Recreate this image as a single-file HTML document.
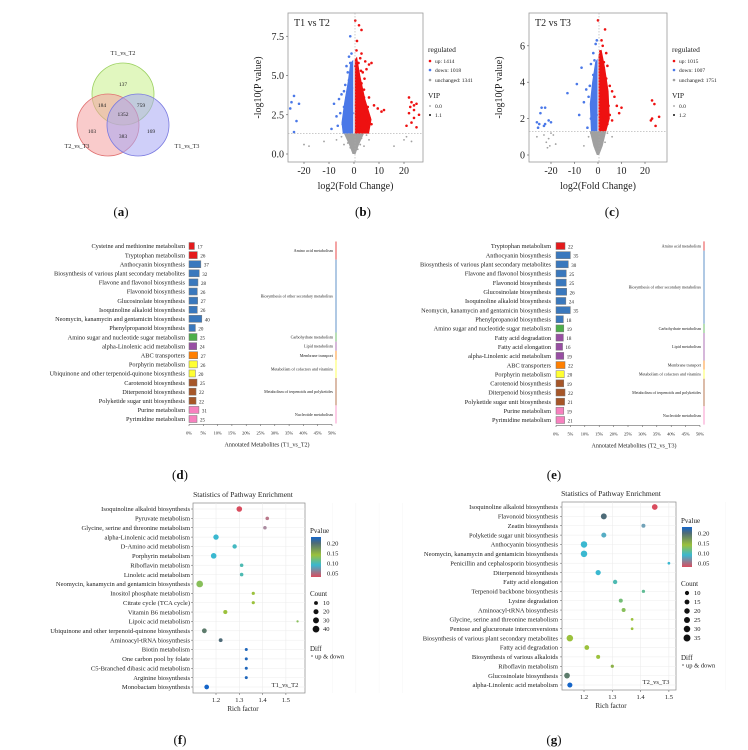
<!DOCTYPE html>
<html><head><meta charset="utf-8"><style>
html,body{margin:0;padding:0;background:#fff}
svg{display:block;font-family:"Liberation Serif",serif}
</style></head><body>
<svg id="fig" width="748" height="750" viewBox="0 0 748 750" xmlns="http://www.w3.org/2000/svg"></svg>
<script>
// ===== DATA =====
const vennSets=["T1_vs_T2","T2_vs_T3","T1_vs_T3"];
const vennCounts=[137,184,759,1352,103,383,169];

// Volcano b
const bUp=[[0.5,8.5],[2,8.2],[3,7.9],[1.2,7.2],[1,6.6],[2.5,6.1],[4.5,5.9],[6,5.7],[5,5.4],[7,5.8],[3.5,5.2],[2,4.9],[3,4.5],[4,4.1],[6,3.6],[8,3.1],[9.5,2.9],[11,2.7],[12,2.8],[1.5,4],[1.6,3.5],[2.2,3],[3.2,2.5],[5,2.1],[7,1.9],[1.1,2.1],[2.3,1.7],[0.8,3.1],[1.3,4.4],[0.6,5.6],[3.6,3.3],[4.6,2.7],[6.2,2.3],[2.8,5.3],[1.8,5.8],[0.7,2.6],[1.5,1.5],[3.1,1.45],[4,3.6],[5.5,3],[2.6,3.8],[1.9,2.4],[0.9,4.8],[4.2,4.8],[3,6.4],[22,3.6],[23,3.3],[24,3.1],[25,3.2],[22,2.6],[24,2.3],[26,2.5],[23,2.0],[21,1.8],[25,1.7],[24,2.8],[22.5,3]];
const bDown=[[-1.5,7.5],[-1,6.4],[-2,6.2],[-1.5,5.8],[-3,5.6],[-2.5,5.2],[-1,5],[-2,4.7],[-3.5,4.4],[-4,4],[-5,3.8],[-6,3.5],[-8,3.2],[-4,3],[-5.5,2.6],[-7,2.4],[-3,2.3],[-2,2],[-4.5,1.9],[-9,1.6],[-1,1.5],[-2.5,1.6],[-1.2,3.5],[-0.8,4.2],[-1.8,3],[-3,3.6],[-0.6,2.6],[-2.2,4.1],[-6.5,1.8],[-3.8,1.5],[-25,3.3],[-24,3.7],[-22,3.2],[-25.5,2.9],[-23,2.1],[-24,1.4]];
const bGray=[[-3,1.2],[-2,1],[-1,0.8],[0,1.1],[1,0.9],[2,1.2],[3,1],[-4,0.6],[4,0.5],[-1.5,0.4],[1.5,0.3],[0.5,0.1],[-0.5,0.2],[-2.5,0.7],[2.5,0.6],[0,0.5],[-5,1.1],[5,1.2],[-12,0.8],[-18,0.5],[-20,0.6],[20,0.9],[21,1.1],[23,0.8],[16,0.5],[6,0.9],[-7,0.9]];
const bUpCore=[[0.3,1.3],[0.3,6],[1.2,6.2],[2.5,5],[4.5,3.5],[7,2.2],[6,1.3]];
const bDownCore=[[-0.3,1.3],[-0.3,6],[-1.5,5.8],[-2.5,4.6],[-4,3.2],[-5,2],[-4.5,1.3]];
const bGrayCore=[[-4,1.3],[4,1.3],[2,0.6],[0.6,0],[-0.6,0],[-2,0.6]];

// Volcano c
const cUp=[[0,7.4],[1.5,6.3],[3,6.9],[2,6],[3.5,5.6],[1,5.7],[2.5,5.1],[4,4.9],[2,4.5],[3.5,4.2],[5,3.8],[6,3.5],[7,3.2],[8,2.7],[10,2.6],[9,2.3],[5,2.2],[6,1.9],[4,1.7],[2,1.5],[1,2.3],[1.5,3.3],[0.8,4.4],[3,3],[2.5,2.1],[4.5,2.7],[1.2,1.8],[23,3],[24,2.8],[23,2],[26,2.1],[24.5,1.6],[22.5,1.9]];
const cDown=[[-0.5,6.3],[-1,6.1],[-2,5.6],[-1.5,5.2],[-3,5],[-7,4.8],[-2,4.4],[-1,4],[-3.5,3.8],[-9,3.9],[-13,3.4],[-5,3.6],[-4,3.2],[-6,2.9],[-2,2.6],[-8,2.2],[-3,2],[-1.5,1.6],[-4.5,1.5],[-1,3],[-2.5,3],[-0.6,2.2],[-24,2.6],[-22.5,2.6],[-24.5,2.3],[-21,1.9],[-20,1.8],[-23,1.6],[-25,1.7],[-25.5,1.5],[-22.5,1.7],[-26,1.8]];
const cGray=[[-3,1.2],[-2,0.9],[-1,1],[0,0.8],[1,1.1],[2,0.9],[3,0.7],[-4,1],[4,1.2],[6,1],[-6,0.5],[0,0.1],[-1,0.3],[1,0.4],[-20,1.2],[-21,0.9],[-22,0.7],[-19,1.1],[-20.5,0.5],[-18,0.6],[-23,1.1],[-21.5,0.4],[-26,1]];
const cUpCore=[[0.2,1.3],[0.2,5.5],[1.5,5.8],[3,4.8],[4.5,3.5],[5,2],[3.5,1.3]];
const cDownCore=[[-0.2,1.3],[-0.2,5.3],[-1.2,5.1],[-2.5,4],[-3.5,2.8],[-3,1.3]];
const cGrayCore=[[-3.5,1.3],[3.5,1.3],[2,0.5],[0.5,0],[-0.5,0],[-2,0.5]];

// Bar charts
const dNames=["Cysteine and methionine metabolism","Tryptophan metabolism","Anthocyanin biosynthesis","Biosynthesis of various plant secondary metabolites","Flavone and flavonol biosynthesis","Flavonoid biosynthesis","Glucosinolate biosynthesis","Isoquinoline alkaloid biosynthesis","Neomycin, kanamycin and gentamicin biosynthesis","Phenylpropanoid biosynthesis","Amino sugar and nucleotide sugar metabolism","alpha-Linolenic acid metabolism","ABC transporters","Porphyrin metabolism","Ubiquinone and other terpenoid-quinone biosynthesis","Carotenoid biosynthesis","Diterpenoid biosynthesis","Polyketide sugar unit biosynthesis","Purine metabolism","Pyrimidine metabolism"];
const dValues=[17,26,37,32,28,26,27,26,40,20,25,24,27,26,20,25,22,22,31,25];
const dGroupIdx=[0,0,1,1,1,1,1,1,1,1,2,3,4,5,5,6,6,6,7,7];
const eNames=["Tryptophan metabolism","Anthocyanin biosynthesis","Biosynthesis of various plant secondary metabolites","Flavone and flavonol biosynthesis","Flavonoid biosynthesis","Glucosinolate biosynthesis","Isoquinoline alkaloid biosynthesis","Neomycin, kanamycin and gentamicin biosynthesis","Phenylpropanoid biosynthesis","Amino sugar and nucleotide sugar metabolism","Fatty acid degradation","Fatty acid elongation","alpha-Linolenic acid metabolism","ABC transporters","Porphyrin metabolism","Carotenoid biosynthesis","Diterpenoid biosynthesis","Polyketide sugar unit biosynthesis","Purine metabolism","Pyrimidine metabolism"];
const eValues=[22,35,30,25,25,26,24,35,18,19,18,16,19,22,20,19,22,21,19,21];
const eGroupIdx=[0,1,1,1,1,1,1,1,1,2,3,3,3,4,5,6,6,6,7,7];
const groupNames=["Amino acid metabolism","Biosynthesis of other secondary metabolites","Carbohydrate metabolism","Lipid metabolism","Membrane transport","Metabolism of cofactors and vitamins","Metabolism of terpenoids and polyketides","Nucleotide metabolism"];
const groupColors=["#e41a1c","#3a78bd","#4daf4a","#984ea3","#ff7f00","#ffff33","#a65628","#f781bf"];
const pctTicks=["0%","5%","10%","15%","20%","25%","30%","35%","40%","45%","50%"];

// Dot plots
const fNames=["Isoquinoline alkaloid biosynthesis","Pyruvate metabolism","Glycine, serine and threonine metabolism","alpha-Linolenic acid metabolism","D-Amino acid metabolism","Porphyrin metabolism","Riboflavin metabolism","Linoleic acid metabolism","Neomycin, kanamycin and gentamicin biosynthesis","Inositol phosphate metabolism","Citrate cycle (TCA cycle)","Vitamin B6 metabolism","Lipoic acid metabolism","Ubiquinone and other terpenoid-quinone biosynthesis","Aminoacyl-tRNA biosynthesis","Biotin metabolism","One carbon pool by folate","C5-Branched dibasic acid metabolism","Arginine biosynthesis","Monobactam biosynthesis"];
const fRich=[1.30,1.42,1.41,1.20,1.28,1.19,1.31,1.31,1.13,1.36,1.36,1.24,1.55,1.15,1.22,1.33,1.33,1.33,1.33,1.16];
const fP=[0.03,0.05,0.06,0.10,0.105,0.10,0.11,0.11,0.14,0.15,0.15,0.15,0.14,0.19,0.20,0.225,0.225,0.225,0.225,0.23];
const fCount=[26,8,8,24,14,26,8,8,40,6,6,12,2,18,10,5,5,5,5,17];
const gNames=["Isoquinoline alkaloid biosynthesis","Flavonoid biosynthesis","Zeatin biosynthesis","Polyketide sugar unit biosynthesis","Anthocyanin biosynthesis","Neomycin, kanamycin and gentamicin biosynthesis","Penicillin and cephalosporin biosynthesis","Diterpenoid biosynthesis","Fatty acid elongation","Terpenoid backbone biosynthesis","Lysine degradation","Aminoacyl-tRNA biosynthesis","Glycine, serine and threonine metabolism","Pentose and glucuronate interconversions","Biosynthesis of various plant secondary metabolites","Fatty acid degradation","Biosynthesis of various alkaloids","Riboflavin metabolism","Glucosinolate biosynthesis","alpha-Linolenic acid metabolism"];
const gRich=[1.45,1.27,1.41,1.27,1.20,1.20,1.50,1.25,1.31,1.41,1.33,1.34,1.37,1.37,1.15,1.21,1.25,1.30,1.14,1.15];
const gP=[0.03,0.20,0.08,0.09,0.10,0.10,0.10,0.10,0.11,0.12,0.13,0.14,0.15,0.15,0.15,0.15,0.15,0.16,0.19,0.23];
const gCount=[22,24,9,16,30,30,3,18,11,5,9,9,3,3,30,14,9,5,22,17];
const fCountLeg=[10,20,30,40];
const gCountLeg=[10,15,20,25,30,35];
const fPTicks=[0.20,0.15,0.10,0.05];
const gPTicks=[0.20,0.15,0.10,0.05];

// ===== HELPERS =====
const NS="http://www.w3.org/2000/svg";
const svg=document.getElementById('fig');
function el(tag,attrs,parent){const e=document.createElementNS(NS,tag);for(const k in attrs)e.setAttribute(k,attrs[k]);(parent||svg).appendChild(e);return e;}
function txt(s,x,y,size,anchor,parent,extra){const t=el('text',Object.assign({x:x,y:y,'font-size':size,'text-anchor':anchor||'start',fill:'#222'},extra||{}),parent);t.textContent=s;return t;}
function pcol(p){const st=[[0.03,[217,76,94]],[0.06,[170,140,160]],[0.10,[58,184,208]],[0.15,[155,193,60]],[0.20,[78,107,120]],[0.23,[21,101,200]]];
 if(p<=st[0][0])return 'rgb('+st[0][1]+')';for(let i=1;i<st.length;i++){if(p<=st[i][0]){const a=st[i-1],b=st[i],t=(p-a[0])/(b[0]-a[0]);return 'rgb('+a[1].map((v,j)=>Math.round(v+(b[1][j]-v)*t)).join(',')+')';}}return 'rgb('+st[st.length-1][1]+')';}

// ===== VENN (a) =====
const gA=el('g',{});


const vc=[[123,94,'#c8f08a','#9bd060'],[108,125,'#f4a0a0','#e07070'],[138,125,'#a8a8f4','#7a7ae0']];
vc.forEach((c,i)=>{const ci=el('circle',{cx:c[0],cy:c[1],r:31,fill:c[2],'fill-opacity':0.55,stroke:c[3],'stroke-width':0.8},gA);

});
const vLabPos=[[123,55,'middle'],[77,148,'middle'],[187,148,'middle']];
vennSets.forEach((s,i)=>{const t=txt(s,vLabPos[i][0],vLabPos[i][1],6,vLabPos[i][2],gA);

});
const vNumPos=[[123,86],[102,107],[141,107],[123,116],[92,133],[123,138],[151,133]];
vennCounts.forEach((v,i)=>{const t=txt(String(v),vNumPos[i][0],vNumPos[i][1],5.5,'middle',gA);

});

// panel letters
[['(a)',121,216],['(b)',363,216],['(c)',612,216],['(d)',180,479],['(e)',554,479],['(f)',180,744],['(g)',554,744]].forEach(p=>{
 const t=el('text',{x:p[1],y:p[2],'font-size':13,'text-anchor':'middle',fill:'#111'});
 t.innerHTML='(<tspan font-weight="bold">'+p[0][1]+'</tspan>)';
 
 });

// ===== VOLCANO =====
function volcano(o){
 const g=el('g',{});
 
 
 const X=v=>o.x0+(v-o.xmin)*o.kx, Y=v=>o.y0-v*o.ky;
 const fr=el('rect',{x:o.L,y:o.T,width:o.R-o.L,height:o.B-o.T,fill:'#fff',stroke:'#999','stroke-width':0.8},g);
 
 
 const cl=el('g',{'clip-path':''},g);
 function poly(pts,col,name){const p=el('polygon',{points:pts.map(q=>X(q[0])+','+Y(q[1])).join(' '),fill:col},cl);
  
  }
 poly(o.grayCore,'#a0a0a0','unchanged-core');poly(o.upCore,'#ee1111','up-core');poly(o.downCore,'#4a78e8','down-core');
 function pts(arr,col,name,r){arr.forEach(q=>{const c=el('circle',{cx:X(q[0]),cy:Y(q[1]),r:r,fill:col},cl);
  
  });}
 pts(o.gray,'#a0a0a0','unchanged-point',0.9);pts(o.up,'#ee1111','up-point',1.3);pts(o.down,'#4a78e8','down-point',1.3);
 el('line',{x1:o.L,x2:o.R,y1:Y(1.3),y2:Y(1.3),stroke:'#aaa','stroke-width':0.6,'stroke-dasharray':'1.5,1.5'},g);
 el('line',{x1:X(0)+1,x2:X(0)+1,y1:o.T,y2:o.B,stroke:'#aaa','stroke-width':0.6,'stroke-dasharray':'1.5,1.5'},g);
 o.xt.forEach(v=>{el('line',{x1:X(v),x2:X(v),y1:o.B,y2:o.B+2,stroke:'#555','stroke-width':0.6},g);
  const t=txt(String(v),X(v),o.B+12,10,'middle',g);
  
  });
 o.yt.forEach(v=>{el('line',{x1:o.L-2,x2:o.L,y1:Y(v),y2:Y(v),stroke:'#555','stroke-width':0.6},g);
  const t=txt(o.yfmt(v),o.L-4,Y(v)+3.5,10,'end',g);
  
  });
 const xt=txt('log2(Fold Change)',(o.L+o.R)/2,o.B+27,10,'middle',g);
 
 
 const yt=txt('-log10(P value)',0,0,10,'middle',g,{transform:'translate('+(o.L-27)+','+((o.T+o.B)/2)+') rotate(-90)'});
 
 
 const tt=txt(o.title,o.L+6,o.T+13,10,'start',g);
 
 
 const lx=o.R+5;
 txt('regulated',lx,52,7.5,'start',g);
 [['up: '+o.n[0],'#ee1111',63],['down: '+o.n[1],'#4a78e8',72],['unchanged: '+o.n[2],'#a0a0a0',82]].forEach(r=>{
  const c=el('circle',{cx:lx+2,cy:r[2]-2,r:1.3,fill:r[1]},g);
  
  
  const t=txt(r[0],lx+7,r[2],5.5,'start',g);
  
  });
 txt('VIP',lx,98,7.5,'start',g);
 el('circle',{cx:lx+2,cy:106,r:0.6,fill:'#333'},g);txt('0.0',lx+7,108,5.5,'start',g);
 el('circle',{cx:lx+2,cy:115,r:1,fill:'#111'},g);txt(o.vip,lx+7,117,5.5,'start',g);
}
volcano({id:'b',L:288,R:423,T:13,B:162,x0:354,xmin:0,kx:2.5,y0:154,ky:15.7,xt:[-20,-10,0,10,20],yt:[0,2.5,5,7.5],yfmt:v=>v.toFixed(1),
 title:'T1 vs T2',n:[1414,1018,1341],vip:'1.1',up:bUp,down:bDown,gray:bGray,upCore:bUpCore,downCore:bDownCore,grayCore:bGrayCore});
volcano({id:'c',L:529,R:667,T:13,B:162,x0:598,xmin:0,kx:2.35,y0:155,ky:18.2,xt:[-20,-10,0,10,20],yt:[0,2,4,6],yfmt:v=>String(v),
 title:'T2 vs T3',n:[1015,1007,1751],vip:'1.2',up:cUp,down:cDown,gray:cGray,upCore:cUpCore,downCore:cDownCore,grayCore:cGrayCore});

// ===== BAR CHARTS =====
function bars(o){
 const g=el('g',{});
 
 
 const n=o.names.length, step=(o.yLast-o.yFirst)/(n-1);
 const Y=i=>o.yFirst+i*step, W=v=>v*o.k;
 o.names.forEach((nm,i)=>{
  const t=txt(nm,o.labelX,Y(i)+2.2,6.3,'end',g);
  
  
  const r=el('rect',{x:o.x0,y:Y(i)-3.5,width:W(o.vals[i]),height:7,fill:groupColors[o.grp[i]],stroke:'#777','stroke-width':0.5},g);
  
  
  const v=txt(String(o.vals[i]),o.x0+W(o.vals[i])+3,Y(i)+2.5,5,'start',g);
  
  });
 // groups
 groupNames.forEach((gn,gi)=>{
  const idx=o.grp.map((v,i)=>v===gi?i:-1).filter(i=>i>=0);if(!idx.length)return;
  const y1=Y(idx[0])-step/2,y2=Y(idx[idx.length-1])+step/2;
  const l=el('line',{x1:o.lineX,x2:o.lineX,y1:y1,y2:y2,stroke:groupColors[gi],'stroke-width':0.8},g);
  
  
  const t=txt(gn,o.lineX-3,(y1+y2)/2+1.5,4.1,'end',g);
  
  });
 const ay=Y(n-1)+5.5;
 el('line',{x1:o.x0,x2:o.axEnd,y1:ay,y2:ay,stroke:'#444','stroke-width':0.6},g);
 pctTicks.forEach((s,i)=>{const x=o.x0+i*(o.axEnd-o.x0)/(pctTicks.length-1);
  el('line',{x1:x,x2:x,y1:ay,y2:ay+1.5,stroke:'#444','stroke-width':0.5},g);
  const t=txt(s,x,ay+10,4.4,'middle',g);
  
  });
 const at=txt(o.axTitle,o.titleX,ay+22,6,'middle',g);
 
 
}
bars({id:'d',names:dNames,vals:dValues,grp:dGroupIdx,labelX:185,x0:189,k:0.32,yFirst:246,yLast:419,lineX:336,axEnd:332,axTitle:'Annotated Metabolites (T1_vs_T2)',titleX:267});
bars({id:'e',names:eNames,vals:eValues,grp:eGroupIdx,labelX:551,x0:556,k:0.41,yFirst:246,yLast:420,lineX:704,axEnd:700,axTitle:'Annotated Metabolites (T2_vs_T3)',titleX:634});

// ===== DOT PLOTS =====
function dots(o){
 const g=el('g',{});
 
 
 const n=o.names.length, step=(o.yLast-o.yFirst)/(n-1);
 const Y=i=>o.yFirst+i*step, X=v=>o.x12+(v-1.2)*o.kx, Rs=c=>0.5+Math.sqrt(c)*o.rk;
 const tt=txt('Statistics of Pathway Enrichment',o.titleX,o.T-6,7.5,'middle',g);
 
 
 el('rect',{x:o.L,y:o.T,width:o.R-o.L,height:o.B-o.T,fill:'#fff',stroke:'#888','stroke-width':0.7},g);
 o.xt.forEach(v=>{el('line',{x1:X(v),x2:X(v),y1:o.T,y2:o.B,stroke:'#e8e8e8','stroke-width':0.5},g);
  el('line',{x1:X(v)+o.kx*0.5,x2:X(v)+o.kx*0.5,y1:o.T,y2:o.B,stroke:'#f3f3f3','stroke-width':0.4},g);
  el('line',{x1:X(v),x2:X(v),y1:o.B,y2:o.B+2,stroke:'#555','stroke-width':0.5},g);
  const t=txt(v.toFixed(1),X(v),o.B+9,6.5,'middle',g);
  
  });
 o.names.forEach((nm,i)=>{
  el('line',{x1:o.L,x2:o.R,y1:Y(i),y2:Y(i),stroke:'#ececec','stroke-width':0.5},g);
  el('line',{x1:o.L-2,x2:o.L,y1:Y(i),y2:Y(i),stroke:'#555','stroke-width':0.5},g);
  const t=txt(nm,o.labelX,Y(i)+2.2,6.5,'end',g);
  
  });
 o.names.forEach((nm,i)=>{
  const c=el('circle',{cx:X(o.rich[i]),cy:Y(i),r:Rs(o.cnt[i]),fill:pcol(o.p[i])},g);
  
  });
 const xa=txt('Rich factor',o.titleX,o.B+18,7,'middle',g);
 
 
 const cmp=txt(o.cmp,o.R-20,o.B-6,6.5,'middle',g);
 
 
 // legend
 const lx=o.R+5;
 txt('Pvalue',lx,o.pvY,7,'start',g);
 const gid='grad'+o.id;const defs=el('defs',{},g);const lg=el('linearGradient',{id:gid,x1:0,y1:0,x2:0,y2:1},defs);
 [[0,0.23],[0.15,0.20],[0.45,0.15],[0.7,0.10],[1,0.03]].forEach(s=>el('stop',{offset:s[0],'stop-color':pcol(s[1])},lg));
 const cb=el('rect',{x:lx+1,y:o.pvY+4,width:10,height:40,fill:'url(#'+gid+')'},g);
 
 
 o.pTicks.forEach(v=>{const yy=o.pvY+4+40*(0.23-v)/0.2;
  const t=txt(v.toFixed(2),lx+17,yy+2.5,6.5,'start',g);
  
  });
 txt('Count',lx,o.cY,7,'start',g);
 o.cLeg.forEach((c,i)=>{const yy=o.cY+9+i*o.cStep;
  const d=el('circle',{cx:lx+6,cy:yy-2,r:Rs(c),fill:'#111'},g);
  
  
  txt(String(c),lx+13,yy,6.5,'start',g);});
 txt('Diff',lx,o.dY,7,'start',g);
 el('circle',{cx:lx+2,cy:o.dY+5,r:0.8,fill:'none',stroke:'#555','stroke-width':0.4},g);
 txt('up & down',lx+5,o.dY+7.5,6.5,'start',g);
}
dots({id:'f',names:fNames,rich:fRich,p:fP,cnt:fCount,L:193,R:305,T:503,B:693,yFirst:509,yLast:687,x12:216,kx:233,labelX:190,xt:[1.2,1.3,1.4,1.5],rk:0.45,
 titleX:243,cmp:'T1_vs_T2',pvY:533,pTicks:fPTicks,cY:596,cLeg:fCountLeg,cStep:8.7,dY:651});
dots({id:'g',names:gNames,rich:gRich,p:gP,cnt:gCount,L:562,R:676,T:502,B:690,yFirst:507,yLast:685,x12:584,kx:283,labelX:558,xt:[1.2,1.3,1.4,1.5],rk:0.5,
 titleX:611,cmp:'T2_vs_T3',pvY:523,pTicks:gPTicks,cY:586,cLeg:gCountLeg,cStep:9,dY:660});
</script>
</body></html>
